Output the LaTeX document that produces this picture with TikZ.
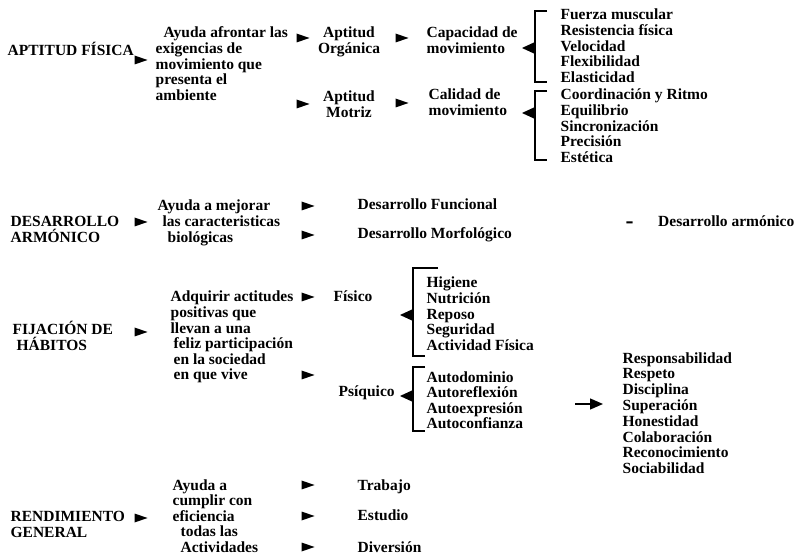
\documentclass[tikz,border=0pt]{standalone}
\usepackage{fontspec}
\setmainfont{Liberation Serif}
\usetikzlibrary{calc, arrows.meta}

\begin{document}
\begin{tikzpicture}[x=1pt, y=-1pt, line width=1.3pt,
        texto/.style={anchor=base west, inner sep=0pt, align=left,
            font=\fontsize{15.5}{15.6}\selectfont\bfseries},
        flecha/.pic={\fill (-6.5,-4.5) -- (6.5,0) -- (-6.5,4.5) -- cycle;},
        punta/.pic={\fill (6.5,-6) -- (-6.5,0) -- (6.5,6) -- cycle;}]
        \useasboundingbox (0,0) rectangle (796,553);

        % Aptitud física (los textos de varias líneas se sitúan por su última línea)
        \node[texto] (apt) at (7,56) {APTITUD FÍSICA};
        \pic at (141,60) {flecha};
        \node[texto] (afr) at (155,100.4) {\hspace*{8pt}Ayuda afrontar las\\exigencias de\\movimiento que\\presenta el\\ambiente};
        \pic at (303,38) {flecha};
        \pic at (303,104) {flecha};
        \node[texto, anchor=base, align=center] (org) at (349,53.6) {Aptitud\\Orgánica};
        \node[texto, anchor=base, align=center] (mot) at (349,117.6) {Aptitud\\Motriz};
        \pic at (402,38) {flecha};
        \pic at (402,103) {flecha};
        \node[texto] (cap) at (426,53.6) {Capacidad de\\movimiento};
        \node[texto] (cal) at (428,115.6) {Calidad de\\movimiento};

        % Llaves con su punta
        \coordinate (O1) at (535,11);
        \coordinate (O2) at (535,82);
        \coordinate (M1) at (535,91);
        \coordinate (M2) at (535,160);
        \draw ($(O1)+(12,0)$) -- (O1) -- (O2) -- ++(12,0);
        \draw ($(M1)+(12,0)$) -- (M1) -- (M2) -- ++(12,0);
        \pic at (528.5,48) {punta};
        \pic at (528.5,113) {punta};
        \node[texto] (cuali1) at (560,82.4) {Fuerza muscular\\Resistencia física\\Velocidad\\Flexibilidad\\Elasticidad};
        \node[texto] (cuali2) at (560,162.4) {Coordinación y Ritmo\\Equilibrio\\Sincronización\\Precisión\\Estética};

        % Desarrollo armónico
        \node[texto] (des) at (10,242.6) {DESARROLLO\\ARMÓNICO};
        \pic at (141,222) {flecha};
        \node[texto] (mej) at (157,242.2) {Ayuda a mejorar\\\hspace*{5pt}las caracteristicas\\\hspace*{10pt}biológicas};
        \pic at (308,206) {flecha};
        \pic at (308,235) {flecha};
        \node[texto] (fun) at (357,210) {Desarrollo Funcional};
        \node[texto] (mor) at (357,239) {Desarrollo Morfológico};
        \node[texto, font=\fontsize{24}{24}\selectfont\bfseries] (igual) at (625,229) {-};
        \node[texto, anchor=base east, font=\fontsize{15.5}{16}\selectfont\bfseries] (arm) at (795,227) {Desarrollo armónico};

        % Fijación de hábitos
        \node[texto] (fij) at (12,350.6) {FIJACIÓN DE\\\hspace*{4pt}HÁBITOS};
        \pic at (141,332) {flecha};
        \node[texto] (adq) at (170,380) {Adquirir actitudes\\positivas que\\llevan a una\\\hspace*{3pt}feliz participación\\\hspace*{3pt}en la sociedad\\\hspace*{3pt}en que vive};
        \pic at (308,297) {flecha};
        \pic at (308,375) {flecha};
        \node[texto] (fis) at (333,302) {Físico};
        \node[texto] (psi) at (338,397) {Psíquico};
        \coordinate (F1) at (413,268);
        \coordinate (F2) at (413,356);
        \coordinate (P1) at (413,367);
        \coordinate (P2) at (413,431);
        \draw ($(F1)+(25,0)$) -- (F1) -- (F2) -- ++(12,0);
        \draw ($(P1)+(12,0)$) -- (P1) -- (P2) -- ++(12,0);
        \pic at (406.5,315) {punta};
        \pic at (406.5,396) {punta};
        \node[texto] (hig) at (426,350.4) {Higiene\\Nutrición\\Reposo\\Seguridad\\Actividad Física};
        \node[texto] (aut) at (426,428.8) {Autodominio\\Autoreflexión\\Autoexpresión\\Autoconfianza};
        \coordinate (V1) at (575,404);
        \coordinate (V2) at (603,404);
        \draw[-{Triangle[length=13pt,width=11pt]}] (V1) -- (V2);
        \node[texto, font=\fontsize{15.5}{15.8}\selectfont\bfseries] (val) at (622,473.6) {Responsabilidad\\Respeto\\Disciplina\\Superación\\Honestidad\\Colaboración\\Reconocimiento\\Sociabilidad};

        % Rendimiento general
        \node[texto] (ren) at (10,537.6) {RENDIMIENTO\\GENERAL};
        \pic at (141,518) {flecha};
        \node[texto] (cum) at (172,552.4) {Ayuda a\\cumplir con\\eficiencia\\\hspace*{8pt}todas las\\\hspace*{8pt}Actividades};
        \pic at (308,485) {flecha};
        \pic at (308,516) {flecha};
        \pic at (308,547) {flecha};
        \node[texto] (tra) at (357,490) {Trabajo};
        \node[texto] (est) at (357,521) {Estudio};
        \node[texto] (div) at (357,552) {Diversión};

    \end{tikzpicture}
\end{document}
